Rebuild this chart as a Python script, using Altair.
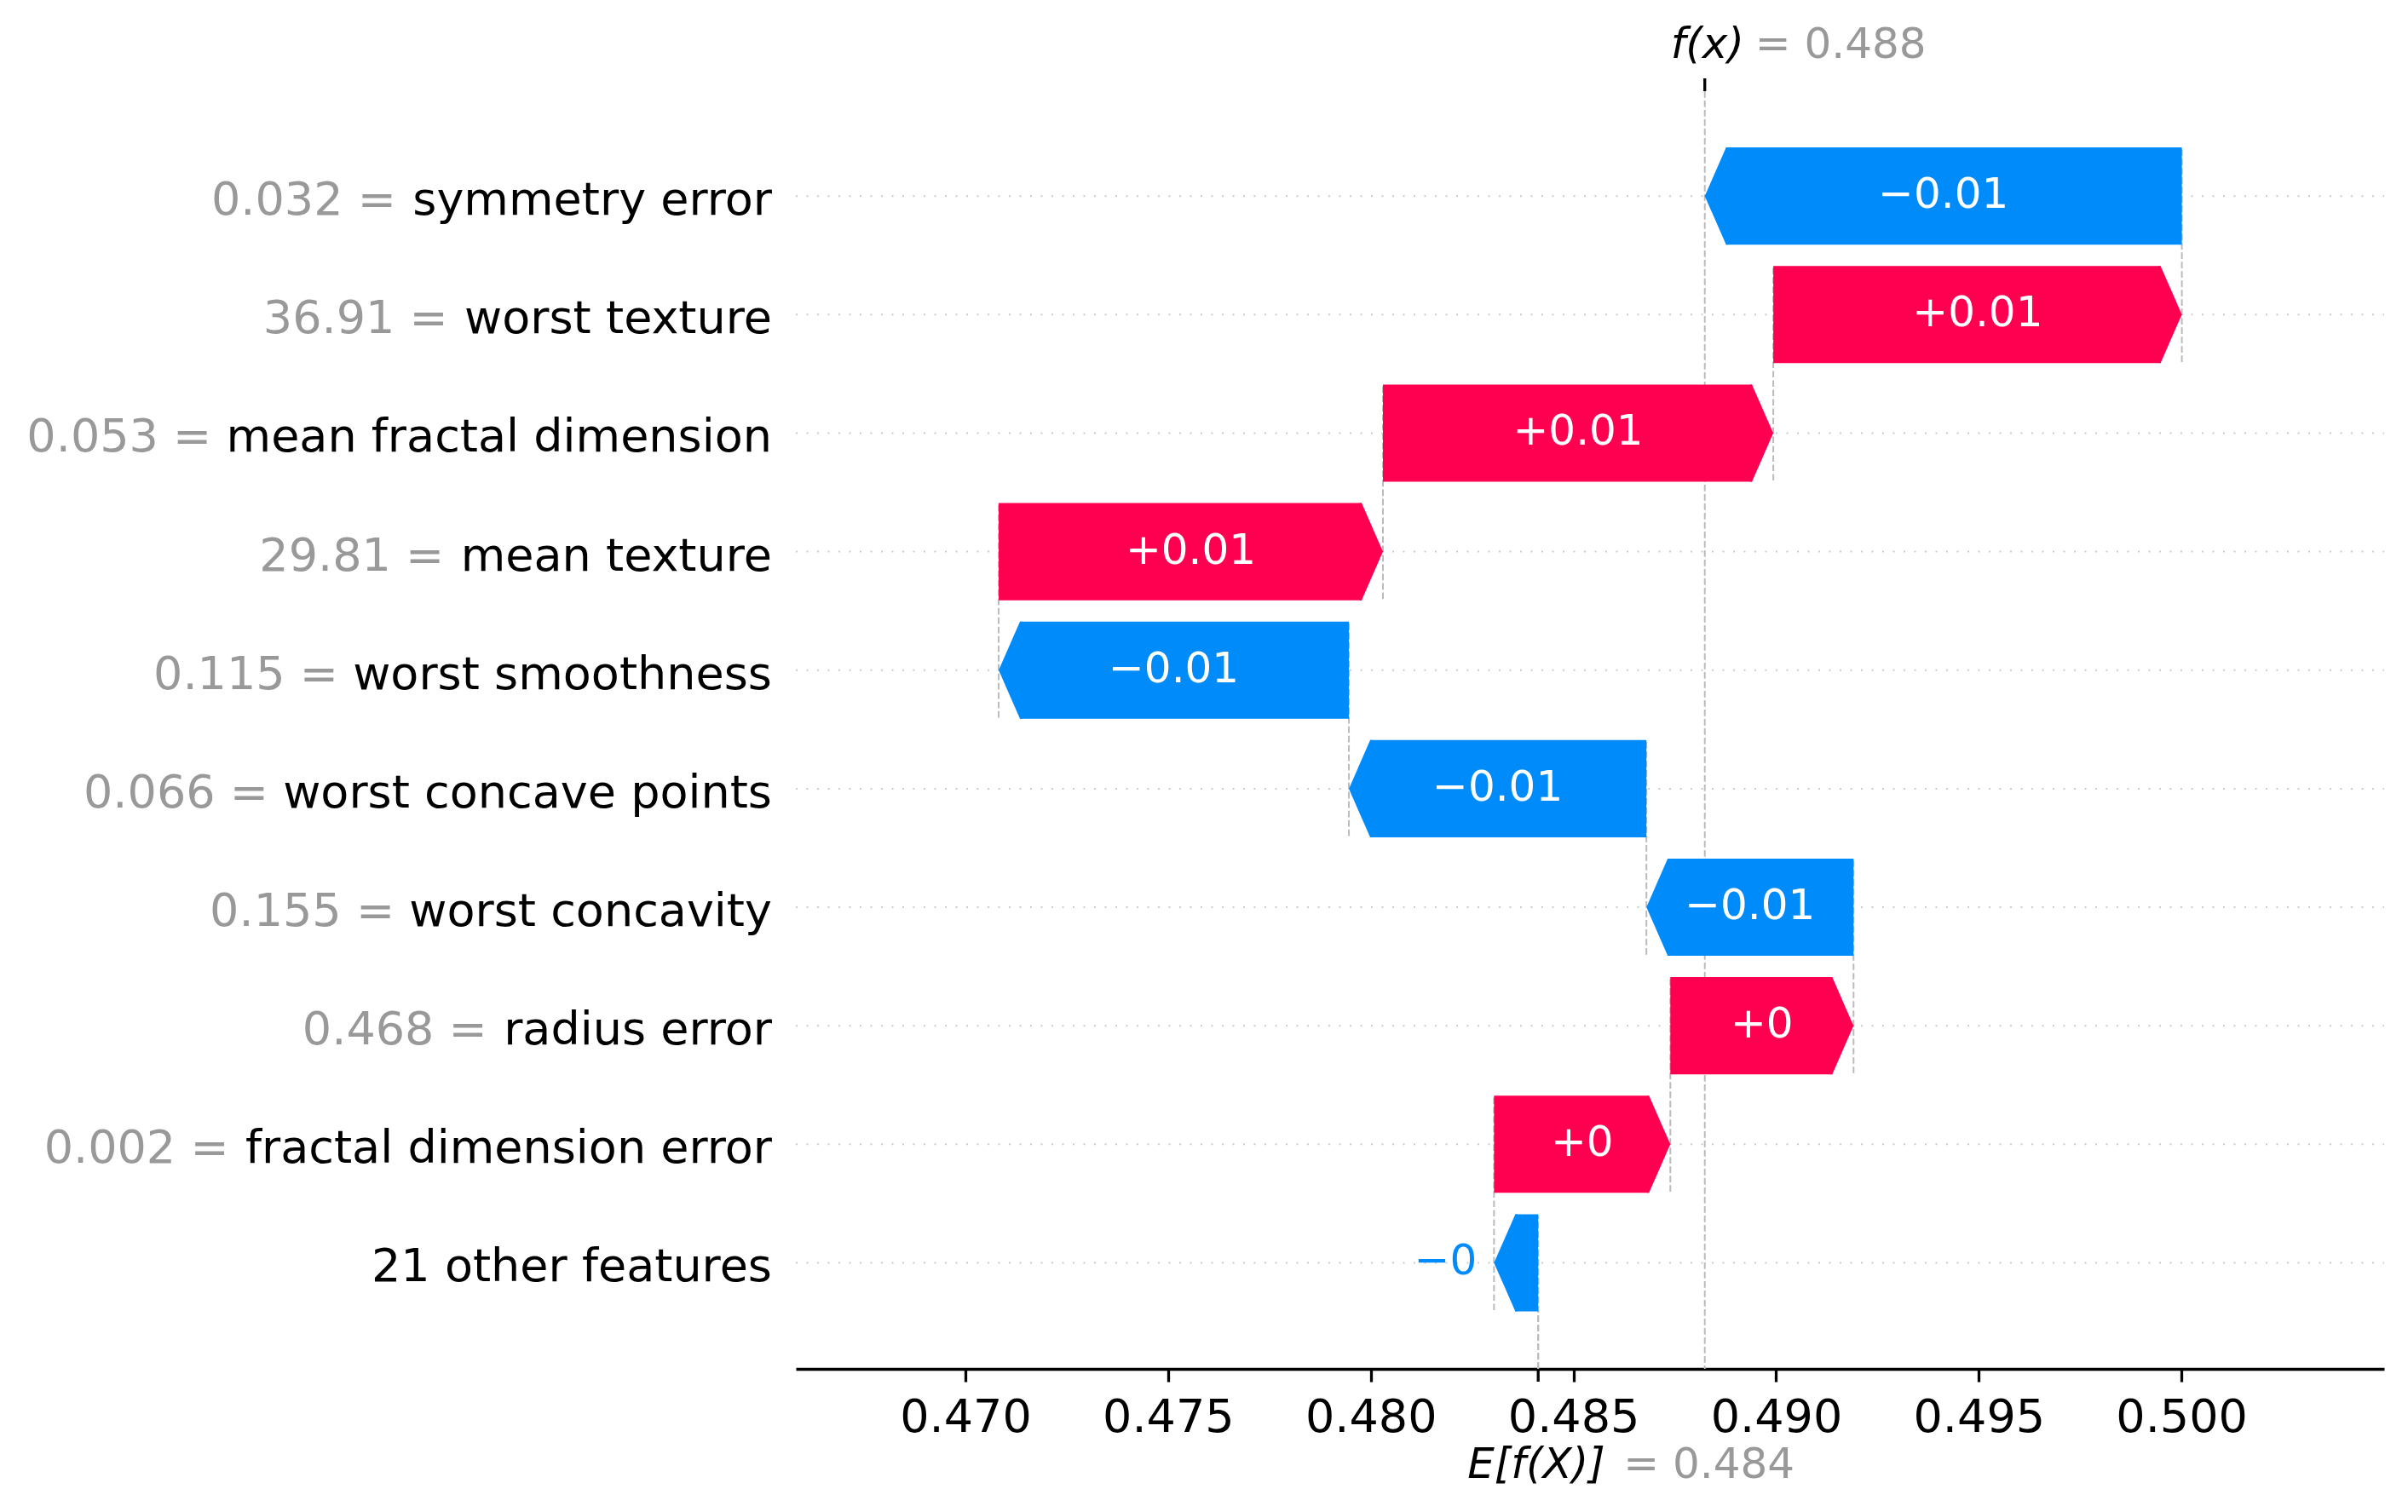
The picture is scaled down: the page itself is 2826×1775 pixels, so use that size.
import altair as alt
import pandas as pd

# ---------------- data ----------------
features = [
    "symmetry error", "worst texture", "mean fractal dimension", "mean texture",
    "worst smoothness", "worst concave points", "worst concavity", "radius error",
    "fractal dimension error", "21 other features",
]
feature_values = ["0.032", "36.91", "0.053", "29.81", "0.115", "0.066", "0.155", "0.468", "0.002", ""]
shap_values = [-0.01177, 0.01008, 0.00963, 0.00948, -0.00864, -0.00734, -0.00511, 0.00452, 0.00435, -0.00109]
bar_labels = ["\u22120.01", "+0.01", "+0.01", "+0.01", "\u22120.01", "\u22120.01", "\u22120.01", "+0", "+0", "\u22120"]
base_value = 0.48413
tick_values = [0.470, 0.475, 0.480, 0.485, 0.490, 0.495, 0.500]

# ---------------- style / layout ----------------
X_MIN, X_MAX = 0.465816, 0.505
Y_MIN, Y_MAX = -0.895, 9.885
W, H = 1864, 1500
RED, BLUE = "#ff0051", "#008bfb"
GREY = "#999999"
FONT = "DejaVu Sans"
LABEL_FS = 54
BAR_FS = 50
LABEL_X = -28
px_per_unit = W / (X_MAX - X_MIN)
row_px = H / (Y_MAX - Y_MIN)
HEAD_PX = 25
head = HEAD_PX / px_per_unit
half = 0.41
bar_px_h = 2 * half * row_px
hx = HEAD_PX / (bar_px_h / 2)
RIGHT_HEAD = f"M-0.04,-1L0,-1L{hx:.4f},0L0,1L-0.04,1Z"
LEFT_HEAD = f"M0.04,-1L0,-1L{-hx:.4f},0L0,1L0.04,1Z"

# DejaVu Sans advance widths (units per em = 2048) for label layout
ADV = {" ": 651, ".": 651, "=": 1716, "\u2212": 1716, "+": 1716,
       "a": 1255, "b": 1300, "c": 1126, "d": 1300, "e": 1260, "f": 721, "g": 1300,
       "h": 1298, "i": 569, "j": 569, "k": 1186, "l": 569, "m": 1995, "n": 1298,
       "o": 1253, "p": 1300, "q": 1300, "r": 842, "s": 1067, "t": 803, "u": 1298,
       "v": 1212, "w": 1675, "x": 1212, "y": 1212, "z": 1075}


def text_w(s, fs):
    return sum(ADV.get(c, 1303) for c in s) * fs / 2048


n = len(features)
starts = [0.0] * n
ends = [0.0] * n
loc = base_value
for i in range(n - 1, -1, -1):
    starts[i] = loc
    loc = loc + shap_values[i]
    ends[i] = loc
fx = loc

body, heads_r, heads_l, conn, grid, lab_in, lab_out, names, vals = [], [], [], [], [], [], [], [], []
for i, f in enumerate(features):
    r = n - 1 - i
    s, e = starts[i], ends[i]
    sign = "pos" if e >= s else "neg"
    d = 1 if e >= s else -1
    hl = min(head, abs(e - s))
    hb = e - d * hl
    body.append(dict(feature=f, sign=sign, x1=s, x2=hb, lo=r - half, hi=r + half))
    if sign == "pos":
        heads_r.append(dict(feature=f, sign=sign, x=hb, row=r))
    else:
        heads_l.append(dict(feature=f, sign=sign, x=hb, row=r))
    conn.append(dict(x=s, y1=max(r - 1.4, Y_MIN), y2=r + 0.4))
    grid.append(dict(row=r))
    bar_px = abs(e - s) * px_per_unit
    if bar_px > text_w(bar_labels[i], BAR_FS) + 20:
        lab_in.append(dict(x=(s + e) / 2, row=r, t=bar_labels[i]))
    else:
        lab_out.append(dict(x=e, row=r, t=bar_labels[i], sign=sign))
    names.append(dict(row=r, t=f))
    if feature_values[i]:
        off = LABEL_X - text_w(f, LABEL_FS) - text_w(" ", LABEL_FS)
        vals.append(dict(row=r, t=feature_values[i] + " =", x=X_MIN + off / px_per_unit))

xs = alt.Scale(domain=[X_MIN, X_MAX], nice=False, zero=False)
ys = alt.Scale(domain=[Y_MIN, Y_MAX], nice=False, zero=False, clamp=True)
color = alt.Color("sign:N", scale=alt.Scale(domain=["pos", "neg"], range=[RED, BLUE]), legend=None)

xaxis = alt.Axis(values=tick_values, format=".3f", title=None, grid=False,
                 labelFont=FONT, labelFontSize=LABEL_FS, labelColor="black",
                 tickSize=15, tickWidth=3.3, tickColor="black",
                 domainColor="black", domainWidth=3.3, labelPadding=15,
                 labelFlush=False, labelOverlap=False)

gridl = alt.Chart(pd.DataFrame(grid)).mark_rule(color="#cccccc", strokeWidth=2, strokeDash=[2, 10.5]).encode(
    y=alt.Y("row:Q", scale=ys, axis=None), x=alt.value(0), x2=alt.value(W))

connl = alt.Chart(pd.DataFrame(conn)).mark_rule(color="#bbbbbb", strokeWidth=2, strokeDash=[7.7, 3.3]).encode(
    x=alt.X("x:Q", scale=xs, axis=xaxis), y=alt.Y("y1:Q", scale=ys, axis=None), y2="y2:Q")

fxdf = pd.DataFrame({"v": [fx]})
bdf = pd.DataFrame({"v": [base_value]})

fxline = alt.Chart(fxdf).mark_rule(color="#bbbbbb", strokeWidth=2, strokeDash=[7.7, 3.3]).encode(
    x=alt.X("v:Q", scale=xs), y=alt.value(0), y2=alt.value(H))
bline = alt.Chart(bdf).mark_rule(color="#bbbbbb", strokeWidth=2, strokeDash=[7.7, 3.3]).encode(
    x=alt.X("v:Q", scale=xs), y=alt.value(H), y2=alt.value(H - H / n))

bodies = alt.Chart(pd.DataFrame(body)).mark_rect(opacity=1, strokeWidth=0).encode(
    x=alt.X("x1:Q", scale=xs), x2="x2:Q",
    y=alt.Y("lo:Q", scale=ys, axis=None), y2="hi:Q",
    color=color,
)

head_size = bar_px_h ** 2
hr = alt.Chart(pd.DataFrame(heads_r)).mark_point(
    shape=RIGHT_HEAD, filled=True, size=head_size, opacity=1, strokeWidth=0).encode(
    x=alt.X("x:Q", scale=xs), y=alt.Y("row:Q", scale=ys), color=color)
hlft = alt.Chart(pd.DataFrame(heads_l)).mark_point(
    shape=LEFT_HEAD, filled=True, size=head_size, opacity=1, strokeWidth=0).encode(
    x=alt.X("x:Q", scale=xs), y=alt.Y("row:Q", scale=ys), color=color)

tin = alt.Chart(pd.DataFrame(lab_in)).mark_text(
    font=FONT, fontSize=BAR_FS, color="white", align="center", baseline="alphabetic", dy=14).encode(
    x=alt.X("x:Q", scale=xs), y=alt.Y("row:Q", scale=ys), text="t:N")

tout = alt.Chart(pd.DataFrame(lab_out)).mark_text(
    font=FONT, fontSize=BAR_FS, align="right", baseline="alphabetic", dy=14, dx=-20).encode(
    x=alt.X("x:Q", scale=xs), y=alt.Y("row:Q", scale=ys), text="t:N", color=color)

tnames = alt.Chart(pd.DataFrame(names)).mark_text(
    font=FONT, fontSize=LABEL_FS, color="black", align="right", baseline="alphabetic", dy=22).encode(
    x=alt.value(LABEL_X), y=alt.Y("row:Q", scale=ys), text="t:N")

tvals = alt.Chart(pd.DataFrame(vals)).mark_text(
    font=FONT, fontSize=LABEL_FS, color=GREY, align="right", baseline="alphabetic", dy=22).encode(
    x=alt.X("x:Q", scale=xs), y=alt.Y("row:Q", scale=ys), text="t:N")

fxtick = alt.Chart(fxdf).mark_rule(color="black", strokeWidth=3.3).encode(
    x=alt.X("v:Q", scale=xs), y=alt.value(-15), y2=alt.value(0))
btick = alt.Chart(bdf).mark_rule(color="black", strokeWidth=3.3).encode(
    x=alt.X("v:Q", scale=xs), y=alt.value(H), y2=alt.value(H + 15))

fx_lab1 = alt.Chart(fxdf).mark_text(font=FONT, fontSize=BAR_FS, fontStyle="italic", color="black",
                                    align="left", baseline="alphabetic", dx=-40).encode(
    x=alt.X("v:Q", scale=xs), y=alt.value(-39), text=alt.value("f(x)"))
fx_lab2 = alt.Chart(fxdf).mark_text(font=FONT, fontSize=BAR_FS, color=GREY,
                                    align="left", baseline="alphabetic", dx=59).encode(
    x=alt.X("v:Q", scale=xs), y=alt.value(-39), text=alt.value(f"= {fx:.3f}"))
b_lab1 = alt.Chart(bdf).mark_text(font=FONT, fontSize=BAR_FS, fontStyle="italic", color="black",
                                  align="left", baseline="alphabetic", dx=-83).encode(
    x=alt.X("v:Q", scale=xs), y=alt.value(H + 128), text=alt.value("E[f(X)]"))
b_lab2 = alt.Chart(bdf).mark_text(font=FONT, fontSize=BAR_FS, color=GREY,
                                  align="left", baseline="alphabetic", dx=100).encode(
    x=alt.X("v:Q", scale=xs), y=alt.value(H + 128), text=alt.value(f"= {base_value:.3f}"))

chart = alt.layer(
    gridl, connl, fxline, bline, bodies, hr, hlft, tin, tout, tnames, tvals,
    fxtick, btick, fx_lab1, fx_lab2, b_lab1, b_lab2,
).properties(
    width=W, height=H,
    padding={"left": 934, "top": 107, "right": 28, "bottom": 168},
    autosize=alt.AutoSizeParams(type="none"),
    background="white",
).configure_view(stroke=None)

chart.save("out.html", embed_options={"renderer": "svg", "actions": False})
